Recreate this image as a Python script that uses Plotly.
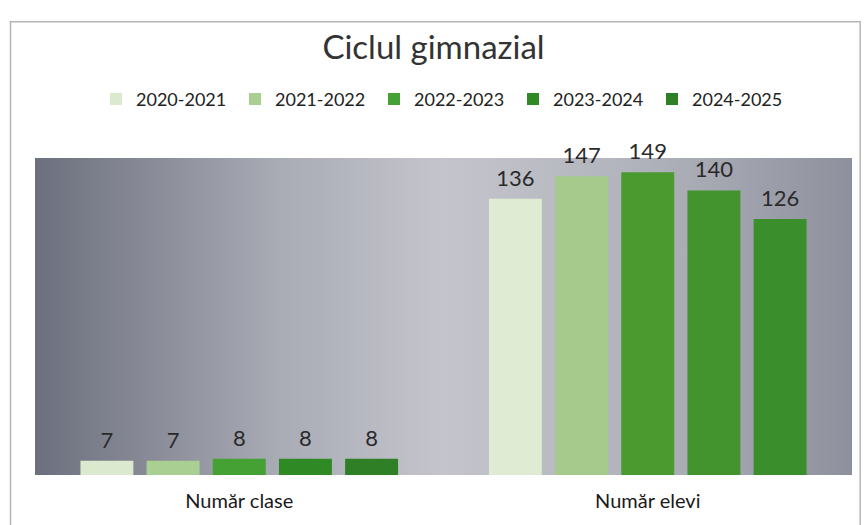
import plotly.graph_objects as go

categories = ["Număr clase", "Număr elevi"]
years = ["2020-2021", "2021-2022", "2022-2023", "2023-2024", "2024-2025"]
values = [
    [7, 136],
    [7, 147],
    [8, 149],
    [8, 140],
    [8, 126],
]
# one colour per bar (clase, elevi) - the original uses gradients
bar_colors = [
    ["#dbe9cf", "#dfebd3"],
    ["#a9cf92", "#a6c98c"],
    ["#45a133", "#4a9a30"],
    ["#2f8a25", "#43932f"],
    ["#2f7f26", "#3a8f2c"],
]
bg_scale = [[0, "#6c6f7d"], [0.3, "#a9abb5"], [0.5, "#c4c5cc"], [0.75, "#b0b2bb"], [1, "#8e919d"]]

fig = go.Figure()

# plot-area background with a horizontal gradient (base axes, drawn below the bars)
fig.add_trace(go.Scatter(
    x=[0, 1, 1, 0, 0], y=[0, 0, 1, 1, 0], mode="lines", fill="toself",
    line=dict(width=0), fillgradient=dict(type="horizontal", colorscale=bg_scale),
    hoverinfo="skip", showlegend=False, xaxis="x", yaxis="y",
))

for name, vals, cols in zip(years, values, bar_colors):
    fig.add_trace(go.Bar(
        x=categories, y=vals, name=name, xaxis="x2", yaxis="y2",
        marker=dict(color=cols, line=dict(width=0)),
        text=vals, textposition="outside", cliponaxis=False, constraintext="none",
        # small base font -> short second line, lifts the label off the bar
        texttemplate="<span style='font-size:22px'>%{y}</span><br> ",
        textfont=dict(size=7, color="#2a2a2a"),
    ))

fig.update_layout(
    width=867, height=525,
    margin=dict(l=35, r=15, t=158, b=50),
    paper_bgcolor="white", plot_bgcolor="rgba(0,0,0,0)",
    font=dict(family="Lato, Open Sans, sans-serif", color="#222"),
    title=dict(text="Ciclul gimnazial", x=0.5, xanchor="center", y=0.91, yanchor="middle",
               font=dict(size=33, color="#333")),
    barmode="group", bargap=0.19, bargroupgap=0.2,
    xaxis=dict(range=[0, 1], visible=False, fixedrange=True),
    yaxis=dict(range=[0, 1], visible=False, fixedrange=True),
    xaxis2=dict(overlaying="x", anchor="y2", type="category", showgrid=False, showline=False,
                ticks="", ticklabelstandoff=12, tickfont=dict(size=20, color="#1a1a1a")),
    yaxis2=dict(overlaying="y", range=[0, 156], visible=False),
    legend=dict(orientation="h", x=0.5, xanchor="center", y=1.185, yanchor="middle",
                font=dict(size=18, color="#222"), entrywidth=94, itemwidth=30,
                bgcolor="rgba(0,0,0,0)"),
    shapes=[dict(type="rect", xref="paper", yref="paper", x0=-0.03, x1=1.01, y0=-0.2, y1=1.43,
                 line=dict(color="#b5b5b5", width=1.5), layer="below")],
)

fig.write_html("out.html", config={"displayModeBar": False},
               post_script="document.body.style.margin='0';")
